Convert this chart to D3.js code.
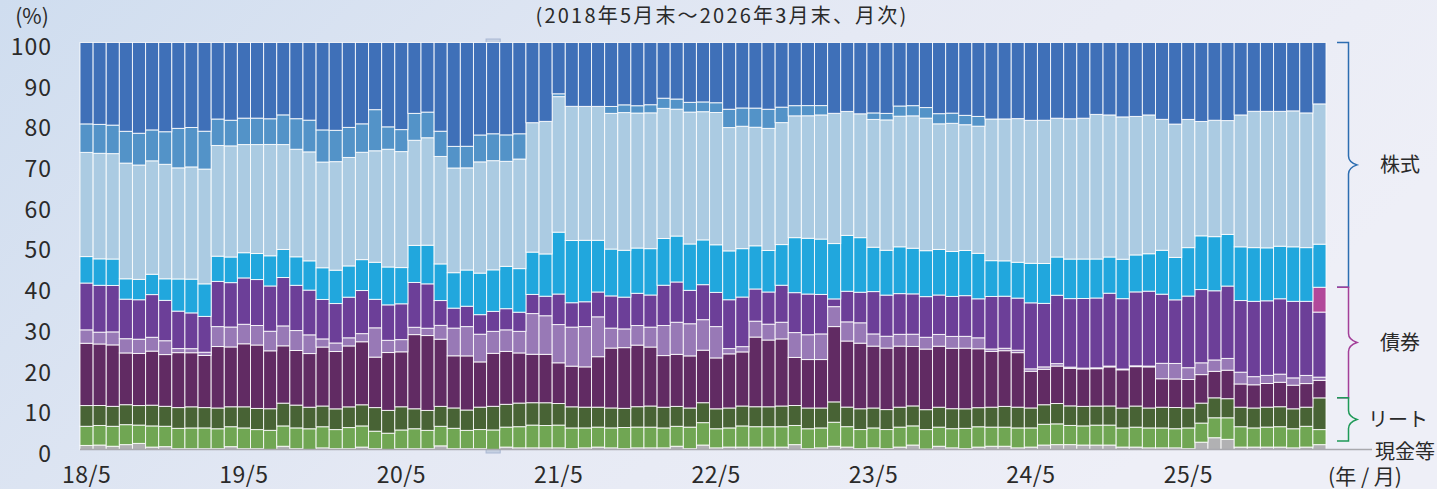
<!DOCTYPE html>
<html>
<head>
<meta charset="utf-8">
<script src="https://cdn.jsdelivr.net/npm/d3@7"></script>
<style>
  html, body { margin: 0; padding: 0; }
  body { width: 1437px; height: 489px; overflow: hidden; }
  svg { display: block; font-family: "Noto Sans CJK JP", "Noto Sans", sans-serif; }
</style>
</head>
<body>
<svg id="chart" width="1437" height="489"></svg>
<script>
// ---- data (percent of fund, monthly 2018/5 – 2026/3) ----
const startYear = 2018, startMonth = 5, monthCount = 95;
const xTickLabels = ["18/5","19/5","20/5","21/5","22/5","23/5","24/5","25/5"];
const yTickLabels = [0,10,20,30,40,50,60,70,80,90,100];

const cash = [1.0,1.1,0.8,1.2,1.5,0.6,0.7,0.2,0.2,0.2, 0.2,0.7,0.2,0.2,0.0,0.8,0.2,0.0,0.4,0.2,
  0.2,0.6,0.2,0.0,0.2,0.2,0.2,0.9,0.2,0.2, 0.2,0.0,0.6,0.4,0.4,0.4,0.4,0.2,0.4,0.6,
  0.4,0.2,0.4,0.4,0.4,0.8,0.2,1.1,0.4,0.6, 0.6,0.6,0.6,0.6,1.2,0.2,0.4,0.8,0.6,0.2,
  0.4,0.2,0.6,1.1,0.1,0.8,0.4,0.2,0.6,0.8, 0.8,0.4,0.6,1.1,1.2,1.2,1.1,1.1,1.1,0.6,
  0.6,0.4,0.4,0.4,0.2,1.8,2.9,2.5,0.6,0.6, 0.6,0.6,0.4,0.6,1.2];
const reitA = [4.7,4.8,4.9,4.9,4.5,5.2,5.0,5.0,5.1,5.1, 4.9,4.9,5.1,4.7,4.7,5.0,5.1,5.1,5.2,4.7,
  5.2,5.2,4.3,4.0,4.6,4.9,4.5,4.8,5.0,4.5, 4.7,4.8,4.9,5.2,5.6,5.5,5.6,5.1,4.9,4.9,
  4.9,5.2,5.1,5.1,4.9,4.9,5.3,5.5,4.7,4.7, 5.2,5.0,5.0,5.0,4.7,4.9,4.9,5.9,5.0,4.7,
  4.9,4.7,4.9,4.7,4.8,4.7,4.7,5.0,5.0,4.7, 4.7,4.9,4.7,5.1,5.1,4.7,4.7,4.9,4.9,4.7,
  4.9,4.9,4.9,4.7,5.1,4.7,4.9,5.3,5.0,4.7, 4.9,5.0,4.7,5.1,3.7];
const reitB = [5.1,4.9,4.9,4.9,4.8,5.1,4.9,5.1,5.2,5.0, 5.1,4.9,5.2,5.2,5.3,5.6,5.6,5.3,5.1,5.1,
  5.1,5.2,5.8,5.6,5.7,4.9,4.9,4.9,5.0,5.0, 5.5,5.8,5.6,5.8,5.5,5.6,5.3,5.2,5.1,4.9,
  4.9,4.7,5.0,5.2,5.1,4.9,4.7,4.9,4.9,4.9, 4.9,4.9,4.9,5.1,4.9,5.1,4.9,5.0,4.8,5.1,
  4.9,4.9,4.9,4.9,4.9,4.9,4.9,4.8,4.7,4.9, 5.1,5.1,4.9,4.8,5.0,4.8,4.8,4.7,4.7,4.9,
  5.2,4.9,5.1,5.2,4.9,4.9,4.9,4.7,4.8,4.9, 4.9,4.9,4.9,4.7,7.8];
const bondA = [15.3,15.1,15.1,12.7,12.8,13.3,12.7,13.5,13.3,12.8, 15.1,14.7,15.5,15.6,14.2,14.1,13.4,13.2,14.5,14.1,
  15.0,15.5,12.4,14.2,13.5,18.2,18.4,16.5,12.8,13.3, 11.1,13.0,13.0,12.3,11.9,11.9,10.0,10.0,9.9,12.4,
  14.7,14.9,15.1,14.5,12.7,12.8,12.8,12.9,12.5,13.3, 13.3,17.1,16.4,16.5,11.8,11.9,11.9,18.5,16.2,16.1,
  15.2,15.1,15.0,14.6,14.9,15.0,14.8,14.9,14.5,13.7, 13.7,13.4,9.0,8.7,9.2,9.2,9.2,9.2,9.6,9.4,
  9.7,10.1,7.0,7.0,7.0,7.0,6.5,7.0,5.7,5.7, 5.8,6.0,5.8,5.8,4.3];
const bondB = [3.3,2.9,3.2,3.5,3.5,3.4,3.4,1.0,1.0,0.8, 4.9,4.9,4.8,4.8,4.8,4.9,4.9,4.6,2.0,2.1,
  2.0,2.0,7.2,3.0,3.0,1.8,1.8,3.4,6.8,7.2, 6.8,5.4,5.3,5.3,10.0,9.5,9.4,9.6,9.9,9.8,
  4.9,4.6,4.8,4.9,7.4,7.9,7.9,7.5,7.7,1.3, 1.3,3.9,3.9,4.1,6.1,6.1,6.3,4.9,4.7,5.0,
  3.0,2.9,2.9,3.0,2.9,2.9,2.9,2.9,2.7,0.6, 0.6,0.6,0.6,0.6,0.6,0.3,0.2,0.2,0.2,0.2,
  0.2,0.2,3.8,3.8,2.9,2.9,2.8,2.9,2.9,2.0, 2.0,2.0,1.8,2.0,0.8];
const bondC = [11.5,11.5,11.4,9.7,9.7,10.5,9.9,9.2,8.8,8.8, 11.1,10.9,11.4,11.3,11.1,11.9,11.1,11.0,9.7,9.7,
  10.0,10.6,7.0,8.7,8.8,11.0,10.9,6.1,4.9,5.0, 4.8,4.9,5.2,4.7,4.7,4.8,7.5,6.0,6.1,6.1,
  7.9,7.8,7.9,7.9,9.9,9.9,8.2,8.6,8.4,12.0, 12.2,7.9,7.9,9.1,9.8,10.0,9.7,1.9,7.5,7.5,
  10.4,10.1,10.0,9.9,10.0,9.7,9.8,10.0,9.6,12.9, 12.8,12.8,16.2,15.6,16.8,16.8,17.1,17.2,17.9,17.3,
  18.2,18.4,17.0,15.6,17.6,18.0,17.0,17.8,17.6,18.5, 18.3,18.5,18.8,18.2,16.0];
const bondD = [0,0,0,0,0,0,0,0,0,0, 0,0,0,0,0,0,0,0,0,0, 0,0,0,0,0,0,0,0,0,0, 0,0,0,0,0,0,0,0,0,0,
  0,0,0,0,0,0,0,0,0,0, 0,0,0,0,0,0,0,0,0,0, 0,0,0,0,0,0,0,0,0,0, 0,0,0,0,0,0,0,0,0,0,
  0,0,0,0,0,0,0,0,0,0, 0,0,0,0,6.1];
const stockA = [6.5,6.5,6.5,5.0,5.0,5.0,5.3,7.9,8.3,8.0, 6.2,6.3,6.2,6.4,7.4,6.9,7.0,7.2,7.8,8.2,
  7.7,7.6,9.1,9.3,8.9,9.1,9.5,9.0,8.7,8.9, 10.2,10.2,10.4,10.7,10.4,10.4,15.2,15.3,15.1,12.7,
  11.5,11.5,11.1,11.4,11.5,11.3,11.4,11.0,11.7,12.0, 11.9,10.6,10.2,10.0,13.5,13.7,13.6,13.6,13.7,13.4,
  10.9,11.0,11.5,11.2,11.3,11.2,11.0,11.1,11.2,8.8, 8.7,8.8,9.7,9.8,9.4,9.7,9.7,9.6,8.9,9.7,
  9.1,9.2,10.8,10.4,11.9,13.2,13.3,12.7,13.2,13.2, 13.0,12.9,13.4,13.2,10.6];
const stockB = [25.6,25.9,25.9,28.4,28.1,27.9,28.1,27.3,27.6,28.2, 27.2,27.3,26.6,26.8,27.3,25.8,26.4,26.8,26.0,26.7,
  26.7,26.4,27.4,28.9,28.5,25.8,26.4,26.4,25.7,25.1, 27.3,26.8,25.8,26.9,31.8,32.6,33.3,33.0,32.9,32.9,
  33.3,33.8,33.1,33.4,32.0,31.2,32.4,31.5,32.5,30.3, 30.1,29.1,30.0,30.0,29.9,30.1,30.5,32.0,30.4,30.4,
  31.4,32.0,32.1,32.5,32.6,30.9,31.4,30.9,31.3,34.8, 34.9,35.3,35.1,35.2,34.1,34.4,34.6,35.6,34.9,35.0,
  34.1,34.1,32.2,32.7,31.5,28.1,28.6,28.0,32.4,33.5, 33.5,33.1,33.4,33.1,34.5];
const stockC = [7.0,7.1,7.0,7.8,7.8,7.6,8.0,9.7,9.7,9.3, 6.5,6.3,6.5,6.5,6.3,7.3,7.5,7.8,7.9,7.7,
  7.4,7.0,10.1,5.5,5.4,6.6,6.3,6.2,5.3,5.3, 6.6,6.6,6.5,6.2,0,0,0.7,0,0,0,
  1.7,1.9,1.8,2.0,2.5,2.5,2.4,2.4,2.4,4.5, 4.5,4.7,4.7,3.8,2.5,2.5,2.3,0,0,0,
  1.6,1.6,2.5,2.5,2.6,2.5,2.5,2.3,2.4,0, 0,0,0,0,0,0,0,0,0,0,
  0,0,0,0,0,0,0,0,0,0, 0,0,0,0,0];
const stockD = [20.0,20.1,20.3,21.8,22.3,21.5,21.9,21.1,20.9,21.8, 18.8,19.1,18.6,18.6,18.7,17.8,18.7,19.1,21.5,21.6,
  20.9,20.0,16.5,20.7,21.4,17.4,17.1,21.8,25.5,25.5, 22.7,22.4,22.7,22.4,19.7,19.4,12.6,15.7,15.7,15.7,
  15.7,15.3,15.5,15.3,13.7,13.9,14.7,14.6,14.8,16.4, 16.1,16.1,16.4,15.9,15.5,15.5,15.5,17.4,16.9,17.5,
  17.3,17.4,15.6,15.5,16.0,17.5,17.3,17.9,18.2,18.8, 18.8,18.7,19.1,19.1,18.6,18.7,18.6,17.7,17.8,18.3,
  18.2,17.8,18.9,20.0,18.9,19.4,19.1,19.2,17.8,16.9, 16.9,16.9,16.8,17.3,15.1];

const seriesKeys   = ["cash","reitA","reitB","bondA","bondB","bondC","bondD","stockA","stockB","stockC","stockD"];
const seriesColors = ["#b1b1b3","#70a653","#486335","#612b63","#9879b6","#6c3f98","#b2489a","#21a7dd","#abcbe2","#5393c8","#3f70b8"];
const seriesData   = {cash, reitA, reitB, bondA, bondB, bondC, bondD, stockA, stockB, stockC, stockD};

const groupLabels = [
  {name:"株式", from:"stockA", to:"stockD", color:"#2c6db1"},
  {name:"債券", from:"bondA", to:"bondD", color:"#a33f99"},
  {name:"リート", from:"reitA", to:"reitB", color:"#1f9a58"}
];

// ---- build table ----
const months = [];
for (let i = 0; i < monthCount; i++) {
  const m = startMonth - 1 + i;
  const yy = startYear + Math.floor(m / 12), mm = (m % 12) + 1;
  months.push(String(yy).slice(2) + "/" + mm);
}
const table = months.map((mo, i) => {
  const row = {month: mo};
  seriesKeys.forEach(k => row[k] = seriesData[k][i]);
  return row;
});

const svg = d3.select("#chart");
const W = 1437, H = 489;

// background gradient
const defs = svg.append("defs");
const grad = defs.append("linearGradient").attr("id","bg").attr("x1","0").attr("y1","0").attr("x2","1").attr("y2","0.35");
grad.append("stop").attr("offset","0%").attr("stop-color","#cfddef");
grad.append("stop").attr("offset","55%").attr("stop-color","#e5e9f4");
grad.append("stop").attr("offset","100%").attr("stop-color","#eeeff7");
svg.append("rect").attr("width",W).attr("height",H).attr("fill","url(#bg)");

const x = d3.scaleBand().domain(months).range([80, 1326]).padding(0);
const y = d3.scaleLinear().domain([0, 1]).range([449.5, 42.5]);

const stack = d3.stack().keys(seriesKeys).offset(d3.stackOffsetExpand);
const layers = stack(table);

// highlighted bar outline (as in reference)
const hl = months[31];
svg.append("rect")
  .attr("x", x(hl) - 0.5).attr("y", y(1) - 3.5)
  .attr("width", x.bandwidth() + 1).attr("height", y(0) - y(1) + 7)
  .attr("fill", "#c5d0e2").attr("stroke", "#a9b8d3").attr("stroke-width", 1);

// top frame line
svg.append("line").attr("x1", 80).attr("x2", 1326).attr("y1", y(1)).attr("y2", y(1))
  .attr("stroke", "#bdbdc4").attr("stroke-width", 1);

const g = svg.append("g");
g.selectAll("g.layer").data(layers).join("g")
  .attr("class","layer")
  .attr("fill", (d, i) => seriesColors[i])
  .selectAll("rect").data(d => d).join("rect")
  .attr("x", d => x(d.data.month))
  .attr("width", x.bandwidth())
  .attr("y", d => y(d[1]))
  .attr("height", d => Math.max(0, y(d[0]) - y(d[1])))
  .attr("stroke", "#ffffff").attr("stroke-opacity", 0.85).attr("stroke-width", 1);

// baseline (extends to 現金等 label)
svg.append("line").attr("x1", 80).attr("x2", 1372).attr("y1", y(0)).attr("y2", y(0))
  .attr("stroke", "#a9a9ae").attr("stroke-width", 1.5);

// y axis
const yAxis = d3.axisLeft(y).tickValues(yTickLabels.map(v => v / 100))
  .tickFormat(d => Math.round(d * 100)).tickSize(0).tickPadding(3);
const ya = svg.append("g").attr("transform","translate(55,0)").call(yAxis);
ya.select(".domain").remove();
ya.selectAll("text").attr("font-size", 23).attr("fill", "#2a2a2a")
  .attr("font-family", "\"Noto Sans CJK JP\", sans-serif").attr("dy", "0.52em")
  .style("letter-spacing", "1px");

// x axis
const xAxis = d3.axisBottom(x).tickValues(xTickLabels.map(l => months.find(m => m === l)))
  .tickSize(0).tickPadding(17);
const xa = svg.append("g").attr("transform", `translate(0,${y(0)})`).call(xAxis);
xa.select(".domain").remove();
xa.selectAll("text").attr("font-size", 23).attr("fill", "#2a2a2a")
  .attr("font-family", "\"Noto Sans CJK JP\", sans-serif")
  .style("letter-spacing", "0.5px");

// labels
svg.append("text").attr("x", 32).attr("y", 24).attr("text-anchor","middle")
  .attr("font-size", 21).attr("fill", "#2a2a2a").text("(%)");
svg.append("text").attr("x", 722).attr("y", 23).attr("text-anchor","middle")
  .attr("font-size", 20).attr("fill", "#2a2a2a").style("letter-spacing", "2.2px")
  .text("(2018年5月末～2026年3月末、月次)");
svg.append("text").attr("x", 1365).attr("y", 484).attr("text-anchor","middle")
  .attr("font-size", 21).attr("fill", "#2a2a2a").text("(年 / 月)");

// braces from the last month's composition
const last = layers.map(l => l[l.length - 1]);
const keyIdx = k => seriesKeys.indexOf(k);
function bracePath(yTop, yBot) {
  const xv = 1348.5, xt = 1337, xp = 1357, mid = (yTop + yBot) / 2;
  return `M${xt},${yTop} H${xv} V${mid - 9} Q${xv},${mid - 3} ${xp},${mid} Q${xv},${mid + 3} ${xv},${mid + 9} V${yBot} H${xt}`;
}
groupLabels.forEach(gl => {
  const top = y(last[keyIdx(gl.to)][1]);
  const bot = y(last[keyIdx(gl.from)][0]) - (gl.name === "リート" ? 3.5 : 0);
  svg.append("path").attr("d", bracePath(top, bot)).attr("fill","none")
    .attr("stroke", gl.color).attr("stroke-width", 1.5);
  svg.append("text").attr("x", gl.name === "リート" ? 1398 : 1400).attr("y", (top + bot) / 2)
    .attr("dy", "0.36em").attr("text-anchor","middle")
    .attr("font-size", 20).attr("fill", "#2a2a2a").text(gl.name);
});
svg.append("text").attr("x", 1405).attr("y", y(0) + 2).attr("dy","0.36em").attr("text-anchor","middle")
  .attr("font-size", 20).attr("fill", "#2a2a2a").text("現金等");
</script>
</body>
</html>
